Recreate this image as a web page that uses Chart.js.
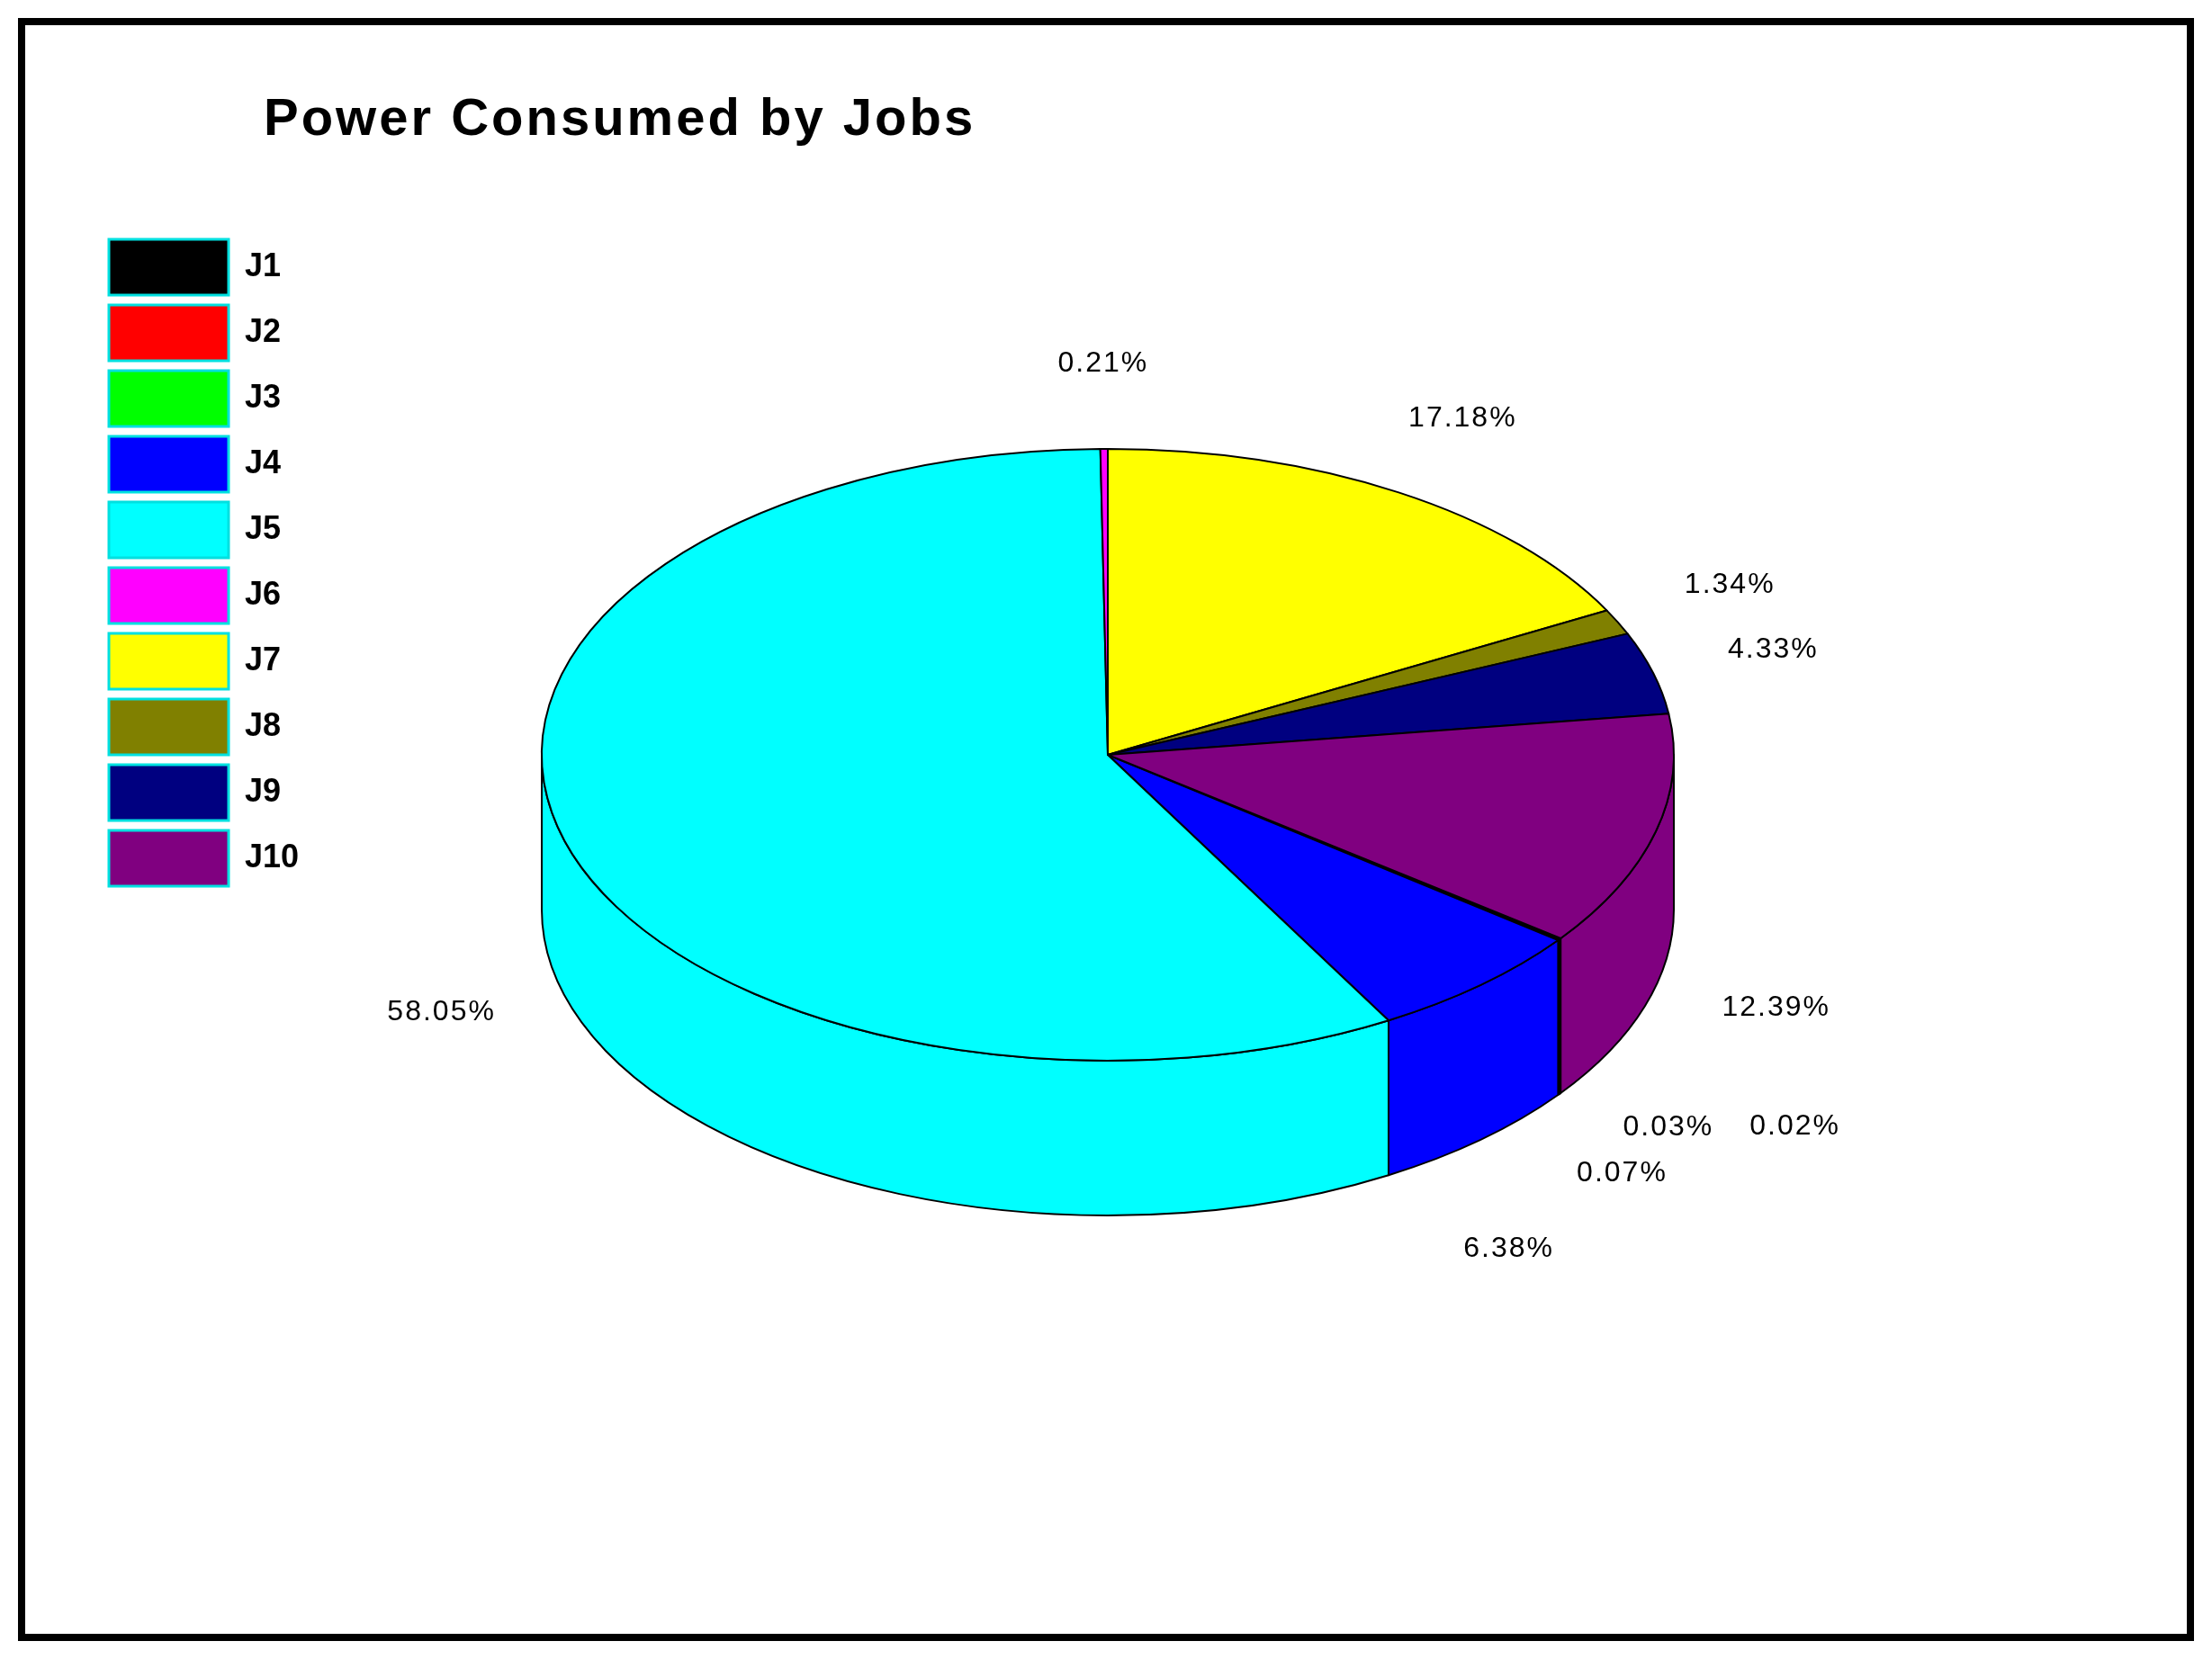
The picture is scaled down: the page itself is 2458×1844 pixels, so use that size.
<!DOCTYPE html>
<html>
<head>
<meta charset="utf-8">
<script src="https://cdn.jsdelivr.net/npm/chart.js@4"></script>
<style>
  html, body { margin: 0; padding: 0; background: #fff; }
  #frame { position: absolute; left: 20px; top: 20px; width: 2402px; height: 1788px; border: 8px solid #000; }
  #pie { position: absolute; left: 0; top: 0; }
</style>
</head>
<body>
<div id="frame"></div>
<canvas id="pie" width="2458" height="1844" style="width:2458px;height:1844px"></canvas>
<script>
const jobs = ['J1', 'J2', 'J3', 'J4', 'J5', 'J6', 'J7', 'J8', 'J9', 'J10'];
const power = [0.02, 0.03, 0.07, 6.38, 58.05, 0.21, 17.18, 1.34, 4.33, 12.39];
const percentLabels = ['0.02%', '0.03%', '0.07%', '6.38%', '58.05%', '0.21%', '17.18%', '1.34%', '4.33%', '12.39%'];
const colors = ['#000000', '#ff0000', '#00ff00', '#0000ff', '#00ffff', '#ff00ff', '#ffff00', '#808000', '#000080', '#800080'];

// ellipse geometry on the page
const centre = { x: 1231, y: 839 };
const rx = 629, ry = 340, depth = 172;

// tiny slices get stacked a little so their labels don't collide
const nudge = { 0: [150, -20], 1: [10, -20], 2: [-40, 30], 3: [-60, 50] };

function pieces(s, e) {
  const out = [];
  for (let k = -2; k <= 2; k++) {
    const a = Math.max(s, 2 * Math.PI * k), b = Math.min(e, Math.PI + 2 * Math.PI * k);
    if (b > a) out.push([a, b]);
  }
  return out;
}

const pie3d = {
  id: 'pie3d',
  beforeDatasetsDraw(chart) {
    const ctx = chart.ctx;
    const arcs = chart.getDatasetMeta(0).data;
    const cx = centre.x, cy = centre.y;
    ctx.save();
    ctx.lineWidth = 2;
    ctx.strokeStyle = '#000';
    ctx.lineJoin = 'round';
    // side walls
    arcs.forEach((arc, i) => {
      const p = arc.getProps(['startAngle', 'endAngle']);
      pieces(p.startAngle, p.endAngle).forEach(([a, b]) => {
        ctx.beginPath();
        ctx.ellipse(cx, cy, rx, ry, 0, a, b);
        ctx.lineTo(cx + rx * Math.cos(b), cy + ry * Math.sin(b) + depth);
        ctx.ellipse(cx, cy + depth, rx, ry, 0, b, a, true);
        ctx.closePath();
        ctx.fillStyle = colors[i];
        ctx.fill();
        ctx.stroke();
      });
    });
    // top faces
    arcs.forEach((arc, i) => {
      const p = arc.getProps(['startAngle', 'endAngle']);
      ctx.beginPath();
      ctx.moveTo(cx, cy);
      ctx.ellipse(cx, cy, rx, ry, 0, p.startAngle, p.endAngle);
      ctx.closePath();
      ctx.fillStyle = colors[i];
      ctx.fill();
      ctx.stroke();
    });
    ctx.restore();
    return false;
  },
  afterDraw(chart) {
    const ctx = chart.ctx;
    const arcs = chart.getDatasetMeta(0).data;
    ctx.save();
    ctx.fillStyle = '#000';
    ctx.font = 'bold 58px "Liberation Sans", Arial, sans-serif';
    ctx.textBaseline = 'alphabetic';
    ctx.textAlign = 'left';
    ctx.letterSpacing = '3px';
    ctx.fillText('Power Consumed by Jobs', 293, 150);
    ctx.font = '32px "Liberation Sans", Arial, sans-serif';
    ctx.letterSpacing = '2px';
    ctx.textAlign = 'center';
    ctx.textBaseline = 'middle';
    arcs.forEach((arc, i) => {
      const p = arc.getProps(['startAngle', 'endAngle']);
      const m = (p.startAngle + p.endAngle) / 2;
      let x = centre.x + rx * 1.22 * Math.cos(m);
      let y = centre.y + ry * 1.28 * Math.sin(m) + (Math.sin(m) > 0.2 ? depth : 0);
      if (nudge[i]) { x += nudge[i][0]; y += nudge[i][1]; }
      ctx.fillText(percentLabels[i], x, y);
    });
    ctx.restore();
  }
};

const total = power.reduce((a, b) => a + b, 0);
const lead = power.slice(0, 6).reduce((a, b) => a + b, 0);

new Chart(document.getElementById('pie').getContext('2d'), {
  type: 'pie',
  data: {
    labels: jobs,
    datasets: [{ data: power, backgroundColor: colors, borderColor: '#000', borderWidth: 1 }]
  },
  options: {
    responsive: false,
    animation: false,
    devicePixelRatio: 1,
    rotation: -lead / total * 360,
    radius: 300,
    layout: { padding: { top: 255, left: 110 } },
    plugins: {
      tooltip: { enabled: false },
      legend: {
        position: 'left',
        align: 'start',
        labels: {
          boxWidth: 133,
          boxHeight: 62,
          padding: 11,
          color: '#000',
          font: { family: '"Liberation Sans", Arial, sans-serif', size: 36, weight: 'bold' },
          generateLabels(chart) {
            return jobs.map((j, i) => ({
              text: j, fillStyle: colors[i], strokeStyle: '#00e0e0', lineWidth: 3, index: i, hidden: false
            }));
          }
        }
      }
    }
  },
  plugins: [pie3d]
});
</script>
</body>
</html>
